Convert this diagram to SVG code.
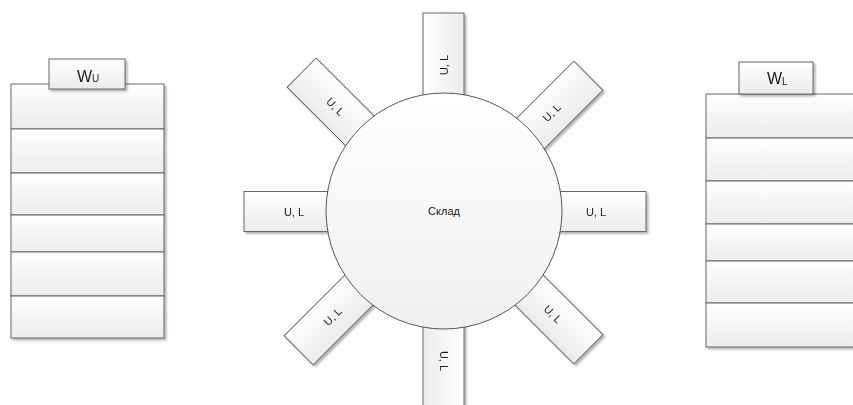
<svg xmlns="http://www.w3.org/2000/svg" width="853" height="405" viewBox="0 0 853 405">
  <defs>
    <linearGradient id="fillV" x1="0" y1="0" x2="0" y2="1">
      <stop offset="0" stop-color="#ffffff"/>
      <stop offset="1" stop-color="#ececec"/>
    </linearGradient>
    <linearGradient id="fillC" x1="0" y1="0" x2="0" y2="1">
      <stop offset="0" stop-color="#ffffff"/>
      <stop offset="1" stop-color="#f0f0f0"/>
    </linearGradient>
    <filter id="shadow" x="-10%" y="-10%" width="130%" height="130%">
      <feGaussianBlur in="SourceAlpha" stdDeviation="0.8"/>
      <feOffset dx="2" dy="2" result="off"/>
      <feComponentTransfer><feFuncA type="linear" slope="0.3"/></feComponentTransfer>
      <feMerge><feMergeNode/><feMergeNode in="SourceGraphic"/></feMerge>
    </filter>
  </defs>
  <style>
    .box { fill: url(#fillV); stroke: #666666; stroke-width: 1; }
    .hub { fill: url(#fillC); stroke: #555555; stroke-width: 1; }
    .lbl { font-family: "Liberation Sans", "DejaVu Sans", sans-serif; font-size: 11px; fill: #1a1a1a; text-anchor: middle; dominant-baseline: central; }
    .hdr { font-family: "Liberation Sans", "DejaVu Sans", sans-serif; font-size: 16px; fill: #1a1a1a; }
    .sub { font-size: 10px; }
  </style>

  <!-- left shelf stack -->
  <g id="stack-u" filter="url(#shadow)">
    <rect class="box" x="11" y="84" width="153" height="45"/>
    <rect class="box" x="11" y="129" width="153" height="44"/>
    <rect class="box" x="11" y="173" width="153" height="42"/>
    <rect class="box" x="11" y="215" width="153" height="37"/>
    <rect class="box" x="11" y="252" width="153" height="44"/>
    <rect class="box" x="11" y="296" width="153" height="42"/>
  </g>
  <g id="header-u" filter="url(#shadow)">
    <rect class="box" x="49" y="59" width="76" height="30"/>
    <text class="hdr" x="77" y="82">W<tspan class="sub">U</tspan></text>
  </g>

  <!-- right shelf stack -->
  <g id="stack-l" filter="url(#shadow)">
    <rect class="box" x="706" y="94" width="153" height="44"/>
    <rect class="box" x="706" y="138" width="153" height="43"/>
    <rect class="box" x="706" y="181" width="153" height="43"/>
    <rect class="box" x="706" y="224" width="153" height="37"/>
    <rect class="box" x="706" y="261" width="153" height="42"/>
    <rect class="box" x="706" y="303" width="153" height="44"/>
  </g>
  <g id="header-l" filter="url(#shadow)">
    <rect class="box" x="739" y="62" width="74" height="32"/>
    <text class="hdr" x="767" y="84">W<tspan class="sub" dy="1">L</tspan></text>
  </g>

  <!-- loading docks around the hub: each drawn in its label frame -->
  <g id="dock-top" filter="url(#shadow)">
    <g transform="translate(443.5,63) rotate(-90)">
      <rect class="box" x="-50" y="-20.5" width="100" height="41"/>
      <text class="lbl" x="-2" y="0">U, L</text>
    </g>
  </g>
  <g id="dock-bottom" filter="url(#shadow)">
    <g transform="translate(443.5,361) rotate(90)">
      <rect class="box" x="-50" y="-20.5" width="100" height="41"/>
      <text class="lbl" x="0" y="0">U, L</text>
    </g>
  </g>
  <g id="dock-left" filter="url(#shadow)">
    <g transform="translate(294,211.5)">
      <rect class="box" x="-50" y="-20" width="100" height="40"/>
      <text class="lbl" x="0" y="0">U, L</text>
    </g>
  </g>
  <g id="dock-right" filter="url(#shadow)">
    <g transform="translate(596,211.5)">
      <rect class="box" x="-50" y="-20" width="100" height="40"/>
      <text class="lbl" x="0" y="0">U, L</text>
    </g>
  </g>
  <g id="dock-top-left" filter="url(#shadow)">
    <g transform="translate(337,108) rotate(45)">
      <rect class="box" x="-50" y="-20.5" width="100" height="41"/>
      <text class="lbl" x="-2" y="0">U, L</text>
    </g>
  </g>
  <g id="dock-top-right" filter="url(#shadow)">
    <g transform="translate(553,111) rotate(-45)">
      <rect class="box" x="-50" y="-20.5" width="100" height="41"/>
      <text class="lbl" x="-2" y="0">U, L</text>
    </g>
  </g>
  <g id="dock-bottom-left" filter="url(#shadow)">
    <g transform="translate(334,315) rotate(-45)">
      <rect class="box" x="-50" y="-20.5" width="100" height="41"/>
      <text class="lbl" x="-2" y="0">U, L</text>
    </g>
  </g>
  <g id="dock-bottom-right" filter="url(#shadow)">
    <g transform="translate(553,314) rotate(45)">
      <rect class="box" x="-50" y="-20.5" width="100" height="41"/>
      <text class="lbl" x="0" y="0">U, L</text>
    </g>
  </g>

  <!-- central warehouse -->
  <g id="warehouse">
    <circle class="hub" cx="444" cy="211" r="118"/>
    <text class="lbl" x="444" y="211">Склад</text>
  </g>

  <g id="connectors"/>
</svg>
